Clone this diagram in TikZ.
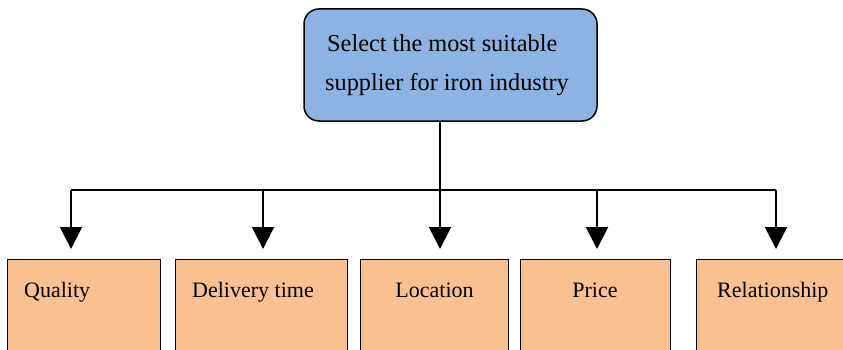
\documentclass[tikz,border=0pt]{standalone}
\usepackage{fontspec}
\setmainfont{Liberation Serif}
\usetikzlibrary{arrows.meta}
\definecolor{goalblue}{RGB}{141,179,226}
\definecolor{critorange}{RGB}{249,192,144}
\begin{document}
\begin{tikzpicture}[x=1pt,y=1pt,
  goalbox/.style={draw=black,line width=1.5pt,fill=goalblue,rounded corners=15pt,
    minimum width=293pt,minimum height=112pt,inner sep=0pt},
  critbox/.style={draw=black,line width=1.2pt,fill=critorange,inner sep=0pt,anchor=north west},
  txt/.style={inner sep=0pt,font=\fontsize{22}{26}\selectfont},
  bigtxt/.style={inner sep=0pt,font=\fontsize{24.3}{29}\selectfont},
  link/.style={line width=2pt},
  arrowlink/.style={line width=2pt,-{Triangle[width=22pt,length=22pt]}}]
\useasboundingbox (0,0) rectangle (843,349);
\clip (0,0) rectangle (843,349);
\fill[white] (0,0) rectangle (843,349);

% goal
\node[goalbox] (goal) at (450.5,284) {};
\node[bigtxt,anchor=base west] (g1) at (327,298) {Select the most suitable};
\node[bigtxt,anchor=base west] (g2) at (325,259) {supplier for iron industry};

% criteria boxes
\node[critbox,minimum width=153pt,minimum height=100pt] (c1) at (7,90) {};
\node[critbox,minimum width=172pt,minimum height=100pt] (c2) at (175,90) {};
\node[critbox,minimum width=148pt,minimum height=100pt] (c3) at (360,90) {};
\node[critbox,minimum width=150pt,minimum height=100pt] (c4) at (520,90) {};
\node[critbox,minimum width=160pt,minimum height=100pt] (c5) at (696,90) {};

\node[txt,anchor=base west] (l1) at (24,52) {Quality};
\node[txt,anchor=base west] (l2) at (192,52) {Delivery time};
\node[txt,anchor=base] (l3) at (434.5,52) {Location};
\node[txt,anchor=base] (l4) at (595,52) {Price};
\node[txt,anchor=base west] (l5) at (717,52) {Relationship};

% distribution bus
\coordinate (bus) at (440,159);
\coordinate (b1) at (71,159);
\coordinate (b2) at (263,159);
\coordinate (b3) at (440,159);
\coordinate (b4) at (597,159);
\coordinate (b5) at (776,159);
\coordinate (t1) at (71,100);
\coordinate (t2) at (263,100);
\coordinate (t3) at (440,100);
\coordinate (t4) at (597,100);
\coordinate (t5) at (776,100);

\draw[link] (goal.south -| bus) -- (bus);
\draw[link] (b1) -- (b5);
\foreach \i in {1,...,5} \draw[arrowlink] (b\i) -- (t\i);
\end{tikzpicture}
\end{document}
